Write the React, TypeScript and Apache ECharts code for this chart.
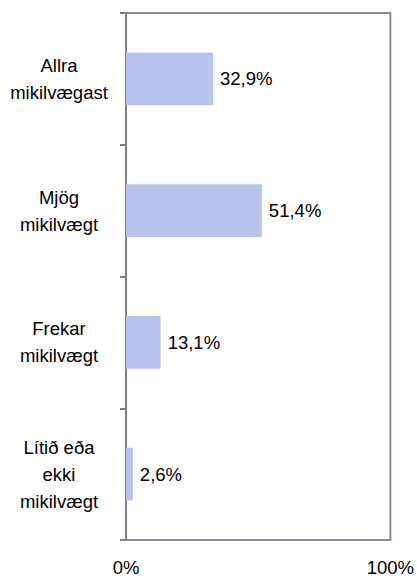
import React, { useEffect, useRef } from "react";
import * as echarts from "echarts";

const categories = ["Allra\nmikilvægast", "Mjög\nmikilvægt", "Frekar\nmikilvægt", "Lítið eða\nekki\nmikilvægt"];
const values = [32.9, 51.4, 13.1, 2.6];
const xTicks = [0, 100];

const FONT = '"Liberation Sans", Arial, sans-serif';
const FS = 18.5;

export default function App() {
  const ref = useRef<HTMLDivElement>(null);
  useEffect(() => {
    if (!ref.current) return;
    const chart = echarts.init(ref.current, null, { renderer: "svg" });
    chart.setOption({
      animation: false,
      grid: {
        left: 126,
        right: 25,
        top: 13,
        bottom: 41,
        show: true,
        borderColor: "#868b9c",
        borderWidth: 2,
        backgroundColor: "transparent",
      },
      xAxis: {
        type: "value",
        min: xTicks[0],
        max: xTicks[1],
        interval: 100,
        splitLine: { show: false },
        axisLine: { show: true, lineStyle: { color: "#868b9c", width: 2 } },
        axisTick: { show: false },
        axisLabel: {
          formatter: "{value}%",
          color: "#000",
          fontFamily: FONT,
          fontSize: FS,
          margin: 18,
        },
      },
      yAxis: {
        type: "category",
        inverse: true,
        data: categories,
        axisLine: { show: true, lineStyle: { color: "#7f7f86", width: 2 } },
        axisTick: { show: true, length: 6, lineStyle: { color: "#7f7f86", width: 2 } },
        axisLabel: {
          color: "#000",
          fontFamily: FONT,
          fontSize: FS,
          lineHeight: 27,
          align: "center",
          margin: 67,
        },
      },
      series: [
        {
          type: "bar",
          data: values,
          barWidth: "40%",
          itemStyle: { color: "#b9c4ec" },
          label: {
            show: true,
            position: "right",
            distance: 7,
            color: "#000",
            fontFamily: FONT,
            fontSize: FS,
            formatter: (p: any) => String(p.value.toFixed(1)).replace(".", ",") + "%",
          },
        },
      ],
    });
    return () => chart.dispose();
  }, []);
  return <div ref={ref} style={{ width: 417, height: 581, position: "absolute", left: 0, top: 0 }} />;
}
